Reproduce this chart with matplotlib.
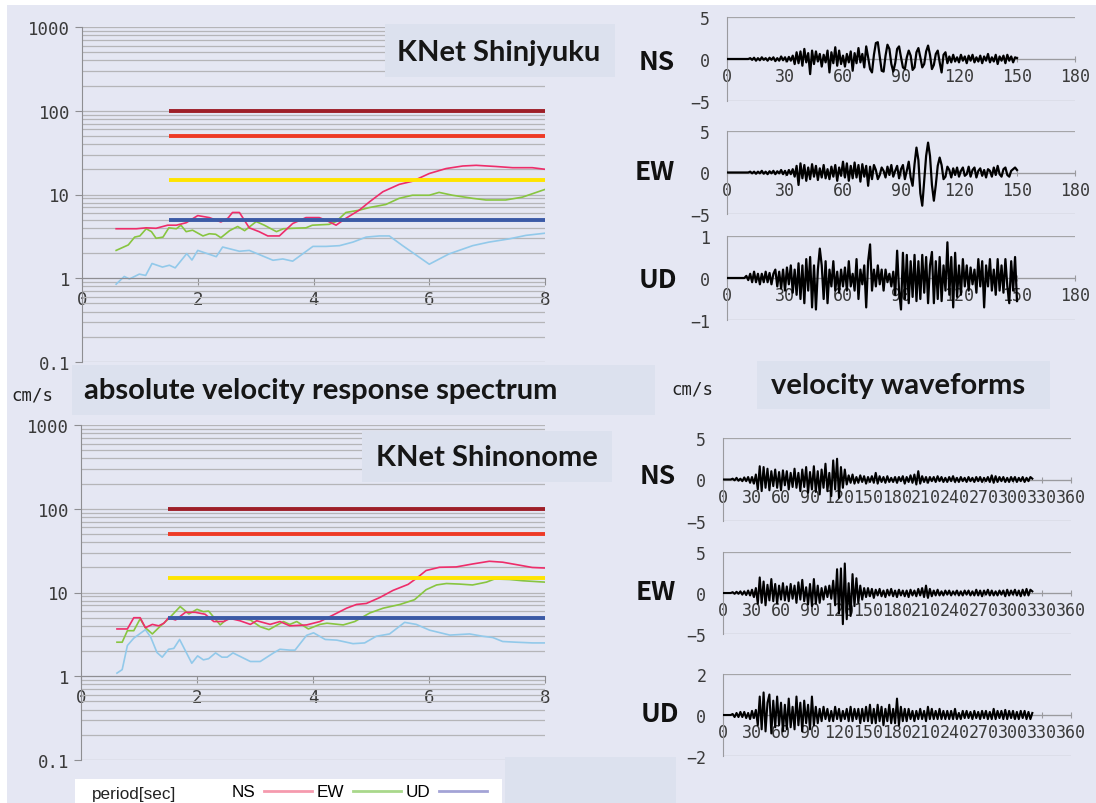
import numpy as np
import matplotlib
matplotlib.use("Agg")
from matplotlib import pyplot as plt
from matplotlib.patches import Rectangle
from matplotlib.lines import Line2D
from matplotlib.ticker import LogLocator, NullFormatter

W, H = 1096, 804

# ---- response spectra (period [s], velocity [cm/s]) ----
# KNet Shinjyuku
shj_ns_t = [0.59, 0.94, 1.11, 1.28, 1.48, 1.63, 1.80, 2.0, 2.2, 2.4, 2.52, 2.6, 2.72, 2.89, 3.06, 3.21,
            3.41, 3.64, 3.87, 4.10, 4.25, 4.39, 4.56, 4.79, 4.97, 5.2, 5.48, 5.71, 6.0, 6.29, 6.58, 6.81,
            7.15, 7.44, 7.78, 8.0]
shj_ns_v = [3.9, 3.9, 4.0, 3.95, 4.3, 4.3, 4.6, 5.6, 5.3, 4.7, 5.2, 6.1, 6.1, 4.0, 3.6, 3.2,
            3.2, 4.5, 5.3, 5.3, 4.8, 4.3, 5.2, 6.5, 8.2, 10.8, 13.2, 14.4, 17.8, 20.4, 21.9, 22.3,
            21.6, 20.9, 20.9, 20.0]
shj_ew_t = [0.59, 0.80, 0.91, 1.0, 1.11, 1.2, 1.28, 1.4, 1.5, 1.63, 1.71, 1.80, 1.91, 2.09, 2.2, 2.31,
            2.4, 2.55, 2.69, 2.81, 3.01, 3.15, 3.36, 3.48, 3.64, 3.87, 3.98, 4.27, 4.39, 4.56, 4.79,
            4.97, 5.25, 5.48, 5.71, 6.0, 6.17, 6.40, 6.75, 6.98, 7.32, 7.61, 7.78, 8.0]
shj_ew_v = [2.15, 2.5, 3.1, 3.2, 3.9, 3.6, 3.0, 3.1, 4.0, 3.9, 4.3, 3.6, 3.75, 3.2, 3.4, 3.35,
            3.05, 3.7, 4.15, 3.7, 4.75, 4.3, 3.6, 3.9, 3.95, 4.0, 4.3, 4.4, 4.75, 6.1, 6.5,
            7.0, 7.6, 9.0, 9.8, 9.8, 10.6, 9.8, 9.0, 8.6, 8.6, 9.3, 10.2, 11.5]
shj_ud_t = [0.59, 0.73, 0.82, 0.99, 1.1, 1.21, 1.39, 1.51, 1.61, 1.81, 1.9, 2.0, 2.32, 2.43, 2.72, 2.89,
            3.3, 3.47, 3.64, 3.99, 4.22, 4.45, 4.68, 4.91, 5.14, 5.31, 5.54, 5.77, 6.0, 6.34, 6.75,
            7.03, 7.38, 7.67, 8.0]
shj_ud_v = [0.85, 1.05, 0.98, 1.12, 1.08, 1.5, 1.36, 1.43, 1.33, 1.97, 1.65, 2.15, 1.81, 2.36, 2.1, 2.15,
            1.64, 1.7, 1.6, 2.4, 2.4, 2.45, 2.7, 3.1, 3.2, 3.2, 2.45, 1.9, 1.47, 1.95, 2.45,
            2.7, 2.95, 3.25, 3.45]

# KNet Shinonome
shn_ns_t = [0.62, 0.80, 0.91, 1.02, 1.11, 1.23, 1.34, 1.43, 1.51, 1.63, 1.80, 1.97, 2.14, 2.29, 2.46, 2.57,
            2.74, 2.92, 3.03, 3.26, 3.43, 3.6, 3.89, 4.12, 4.35, 4.58, 4.75, 4.92, 5.15, 5.38, 5.64,
            5.78, 5.95, 6.18, 6.47, 6.75, 7.04, 7.27, 7.56, 7.78, 8.0]
shn_ns_v = [3.67, 3.67, 5.0, 5.0, 3.8, 4.16, 4.0, 4.3, 5.0, 4.7, 5.8, 5.8, 5.5, 4.5, 4.5, 4.9,
            4.6, 4.16, 4.6, 4.16, 4.5, 4.0, 4.1, 4.5, 5.4, 6.5, 7.2, 7.4, 8.7, 10.6, 12.5,
            14.7, 18.3, 20.0, 20.2, 21.9, 23.6, 23.0, 21.2, 19.9, 19.6]
shn_ew_t = [0.62, 0.71, 0.80, 0.91, 1.02, 1.11, 1.23, 1.34, 1.51, 1.71, 1.86, 2.0, 2.11, 2.2, 2.4, 2.52,
            2.74, 2.92, 3.09, 3.24, 3.49, 3.6, 3.72, 3.92, 4.12, 4.24, 4.52, 4.72, 4.98, 5.21, 5.5,
            5.75, 5.95, 6.13, 6.3, 6.53, 6.75, 6.99, 7.13, 7.39, 7.62, 8.0]
shn_ew_v = [2.55, 2.55, 3.5, 3.5, 4.85, 3.8, 3.2, 3.8, 4.85, 6.8, 5.55, 6.3, 5.9, 6.0, 4.1, 4.85,
            4.9, 4.7, 3.9, 3.6, 4.5, 4.16, 4.5, 3.67, 4.16, 4.3, 4.1, 4.5, 5.7, 6.5, 7.2,
            8.2, 10.8, 12.3, 12.8, 12.6, 12.3, 13.3, 14.5, 14.3, 13.8, 13.3]
shn_ud_t = [0.62, 0.71, 0.80, 0.91, 1.11, 1.2, 1.31, 1.4, 1.51, 1.6, 1.7, 1.91, 2.01, 2.11, 2.2, 2.32,
            2.43, 2.52, 2.62, 2.92, 3.09, 3.32, 3.43, 3.6, 3.69, 3.89, 4.01, 4.21, 4.41, 4.69, 4.89,
            5.09, 5.32, 5.58, 5.78, 6.01, 6.36, 6.7, 6.93, 7.1, 7.27, 7.5, 7.79, 8.0]
shn_ud_v = [1.09, 1.2, 2.33, 2.85, 3.6, 2.95, 1.92, 1.69, 2.1, 2.15, 2.75, 1.43, 1.75, 1.57, 1.62, 1.9,
            1.69, 1.69, 1.9, 1.5, 1.5, 1.9, 2.1, 2.05, 2.05, 3.08, 3.3, 2.75, 2.7, 2.45, 2.5,
            3.0, 3.2, 4.4, 4.16, 3.55, 3.1, 3.2, 3.0, 2.9, 2.6, 2.55, 2.5, 2.5]

levels = [100, 50, 15, 5]
level_colors = ["#9e1f28", "#ee3a26", "#ffe400", "#3b5aa6"]
level_start = 1.5

# ---- velocity waveforms [cm/s] ----
top_dt = 1.0
shj_ns_w = [0] * 12 + [
    0.1, -0.1, 0.15, -0.2, 0.1, -0.15, 0.2, -0.1, 0.1, -0.2, 0.15, -0.1, 0.2, -0.25, 0.1, -0.2, 0.3, -0.15,
    0.2, -0.3, 0.25, -0.2, 0.4,
    -0.6, 0.8, -0.5, 0.9, -0.8, 1.2, -0.4, 0.7, -1.8, 1.0, -0.6, 0.9, -0.3, 0.6, -0.9, 0.5, -0.4, 1.0,
    -1.6, 0.8, -0.5, 1.4, -0.8, 1.0, -0.6, 0.4, -0.9, 0.6, -0.4, 0.9, -1.4, 0.7, -0.5, 1.3, -0.4, 0.6,
    -1.0, 1.5, 0.2, -1.2, -1.6, 0.5, 1.9, 2.0, 0.3, -1.4, -1.5, 0.4, 1.7, 1.2, -0.6, -1.5, -0.5, 1.2,
    1.5, 0.2, -1.0, -1.2, 0.2, 1.0, 0.4, -1.3, -1.0, 0.8, 1.3, 0.2, -1.0, -0.6, 0.9, 1.6, 0.5, -1.2,
    -0.7, 0.6, 1.0, -0.4,
    -1.6, 0.5, 0.8, -0.5, 0.3, -0.4, 0.5, -0.3, 0.2, -0.4, 0.5, -0.2, 0.3, -0.5, 0.4, -0.2, 0.5, -0.4,
    0.2, -0.3, 0.4, -0.5, 0.3, -0.2, 0.6, -0.4, 0.2, -0.3, 0.5, -0.6, 0.3, -0.2, 0.4, -0.5, 0.5, -0.2,
    0.3, -0.4, 0.2, 0.1]
shj_ew_w = [0] * 12 + [
    0.1, -0.1, 0.1, -0.15, 0.1, -0.1, 0.2, -0.15, 0.1, -0.2, 0.15, -0.1, 0.2, -0.2, 0.15, -0.1, 0.3, -0.2,
    0.2, -0.3, 0.3, -0.2, 0.4,
    -0.5, 0.8, -1.5, 1.1, -0.7, 0.9, -1.0, 0.6, -0.8, 1.0, -0.5, 0.8, -0.9, 0.5, -0.6, 0.9, -0.7, 0.4,
    -0.8, 0.7, -0.5, 0.9, -1.0, 0.6, -0.4, 1.3, -0.6, 1.1, -1.0, 0.8, -0.7, 1.2, -0.6, 0.9, -1.1, 1.0,
    -0.5, 0.8, -1.6, 0.7, -0.8,
    0.9, 0.3, -0.8, -0.3, 0.6, 0.2, -0.6, 0.7, -0.3, 0.9, -0.5, 0.2, 0.8, -0.7, 0.4, 0.9, -0.8, 0.2,
    1.3, -0.6,
    -1.6, 1.0, 3.0, 1.5, -2.5, -4.0, -1.0, 2.0, 3.6, 2.0, -1.5, -3.4, -1.5, 0.8, 1.8, 0.9, -0.8,
    -0.5, 0.7, 0.3, -0.6, 0.5, -0.3, 0.6, -0.5, 0.2, 0.6, -0.4, -0.2, 0.7, -0.5, 0.3, 0.6, -0.6, 0.2,
    0.5, -0.4, 0.3, -0.6, 0.4, 0.2, -0.5, 0.6, -0.3, 0.8, -0.2, -0.5, 0.4, 0.6, -0.3, -0.5, 0.2, 0.4,
    0.6, 0.3]
shj_ud_w = [0] * 10 + [
    0.05, -0.05, 0.1, -0.1, 0.15, -0.1, 0.1, -0.15, 0.1, -0.1, 0.15, -0.1, 0.12, -0.15, 0.1,
    0.2, -0.2, 0.15, -0.25, 0.2, -0.3, 0.25, -0.15, 0.3, -0.35, 0.2, -0.4, 0.35, -0.5, 0.3, -0.6,
    0.45, -0.3, 0.5, -0.7, 0.3, -0.75, 0.2, 0.7, 0.3, -0.5, 0.4, -0.6, 0.2, -0.2, 0.4, -0.3, 0.15,
    -0.35, 0.2, -0.2,
    0.25, -0.3, 0.4, -0.2, 0.1, -0.3, 0.45, -0.5, 0.2, -0.15, 0.3, -0.7, 0.4, 0.8, -0.3, 0.2, -0.2,
    0.3, -0.15, 0.2,
    -0.3, 0.2, -0.1, 0.1, -0.2, 0.15, -0.4, 0.65, -0.3, -0.75, 0.6, -0.5, 0.55, -0.6, 0.4, -0.45,
    0.55, -0.55, 0.4, -0.5,
    0.55, -0.35, 0.5, -0.6, 0.3, 0.62, -0.6, 0.4, -0.5, 0.5, -0.55, 0.3, -0.3, 0.85, -0.4, 0.5, -0.7,
    0.6, -0.45, 0.3,
    -0.4, 0.45, -0.2, 0.3, -0.3, 0.25, -0.15, 0.2, -0.35, 0.45, -0.2, 0.4, -0.7, 0.3, -0.2, 0.45,
    -0.3, 0.2, -0.4, 0.45, -0.3, 0.3, -0.35, 0.45, -0.2, -0.6, 0.4, -0.3, 0.5, -0.55]

bot_dt = 2.0
shn_ns_w = [0] * 5 + [
    0.1, -0.1, 0.2, -0.15, 0.1, -0.2, 0.25, -0.2, 0.3, -0.4, 0.3, -0.5, 0.6,
    -1.2, 1.6, -1.4, 1.5, -1.0, 1.3, -1.3, 1.0,
    -0.8, 1.2, -1.0, 0.9, -1.3, 1.1, -0.7, 1.0, -1.2, 0.8, -0.9, 1.3, -1.0, 0.8, -1.4, 1.2, -0.9,
    1.5, -1.6, 0.9, -1.2, 1.6,
    -1.5, 1.0, -1.8, 1.2, -1.0, 1.9, -1.4, 0.8, -2.0, 2.3, -1.2, 2.5, -2.2, 1.5, -1.0, 1.2,
    -0.6, 0.5, -0.4, 0.6, -0.5, 0.3, -0.4, 0.5, -0.3, 0.4, -0.5, 0.3, -0.3, 0.4, -0.4, 0.8, -0.5,
    0.4, -0.3, 0.3, -0.4, 0.4, -0.3, 0.2, -0.3, 0.3, -0.4, 0.3, -0.2, 0.4, -0.5, 0.3, -0.3, 0.5,
    -0.4, 0.6, -0.6, 1.0, -0.5, 0.4, -0.3, 0.3, -0.4, 0.3, -0.2, 0.3, -0.3, 0.4, -0.2, 0.3, -0.3,
    0.2, -0.3, 0.3, -0.2, 0.4, -0.3, 0.2, -0.3, 0.3, -0.2, 0.2, -0.3, 0.3, -0.2, 0.2, -0.3, 0.3,
    -0.2, 0.3, -0.3, 0.2, -0.2, 0.3, -0.3, 0.5, -0.4, 0.4, -0.3, 0.3, -0.2, 0.3, -0.3, 0.2, -0.3,
    0.3, -0.2, 0.3, -0.3, 0.2, -0.2, 0.3, -0.3, 0.2, -0.2, 0.3, 0.1]
shn_ew_w = [0] * 5 + [
    0.1, -0.1, 0.15, -0.1, 0.2, -0.2, 0.2, -0.25, 0.3, -0.3, 0.4, -0.5, 0.6,
    -1.3, 1.9, -1.2, 1.4, -1.5, 1.0, -0.9, 1.7, -1.0, 1.1, -1.3, 0.9, -0.8,
    1.2, -0.9, 0.8, -1.0, 1.1, -0.7, 0.9, -1.2, 1.3, -0.8, 1.6, -1.0, 0.7, -1.4, 1.1, -1.6, 1.7,
    -1.3, 0.9, -1.2, 0.6, -0.8, 0.8, -0.5, 0.9, -0.7, 1.5,
    -1.5, 2.9, -2.5, 3.0, -3.8, 3.6, -3.2, 1.2, -2.8, 2.3, -1.6, 1.8, -1.2,
    0.9, -0.8, 0.6, -0.5, 0.6, -0.4, 0.5, -0.6, 0.4, -0.3, 0.5, -0.4, 0.3, -0.5, 0.4, -0.3, 0.5,
    -0.4, 0.3, -0.5, 0.4, -0.3, 0.3, -0.4, 0.3, -0.5, 0.4, -0.3, 0.3, -0.4, 0.5, -0.3, 0.6, -0.5,
    0.9, -0.6, 0.5, -0.4, 0.3, -0.3, 0.4, -0.3, 0.2, -0.3, 0.3, -0.2, 0.3, -0.3, 0.2, -0.2, 0.3,
    -0.3, 0.2, -0.3, 0.3, -0.2, 0.3, -0.3, 0.2, -0.3, 0.4, -0.3, 0.3, -0.4, 0.3, -0.2, 0.4, -0.3,
    0.3, -0.3, 0.2, -0.3, 0.3, -0.2, 0.3, -0.4, 0.4, -0.3, 0.3, -0.2, 0.4, -0.3, 0.3, -0.4, 0.4,
    -0.3, 0.5, -0.3, 0.4, 0.2]
shn_ud_w = [0] * 5 + [
    0.05, -0.1, 0.1, -0.1, 0.15, -0.1, 0.15, -0.15, 0.1, -0.2, 0.2, -0.15, 0.25,
    -0.5, 0.9, -0.7, 1.1, -0.8, 0.6, 1.0, -0.9, 0.7, -0.6, 0.9, -0.5, 0.6, -0.8, 0.5, -0.7, 0.8,
    -0.6, 0.4, -0.7, 0.9, -0.5, 0.6, -0.8, 0.7, -0.4, 0.5, -0.7, 0.9, -0.5, 0.4,
    -0.4, 0.3, -0.3, 0.4, -0.2, 0.3, -0.3, 0.2, -0.3, 0.4, -0.2, 0.3, -0.3, 0.2, -0.2, 0.3, -0.3,
    0.4, -0.3, 0.3, -0.2, 0.3, -0.4, 0.3, -0.3, 0.4, -0.3, 0.5, -0.4, 0.3, -0.4, 0.5, -0.3, 0.4,
    -0.5, 0.3, -0.3, 0.5, -0.4, 0.3, -0.4, 0.8, -0.5, 0.4, -0.3, 0.3, -0.3,
    0.3, -0.2, 0.2, -0.3, 0.2, -0.2, 0.3, -0.2, 0.2, -0.3, 0.4, -0.2, 0.3, -0.2, 0.2, -0.2, 0.3,
    -0.2, 0.2, -0.2, 0.2, -0.2, 0.2, -0.2, 0.3, -0.2, 0.1, -0.2, 0.2, -0.15, 0.2, -0.15, 0.15,
    -0.2, 0.2, -0.15, 0.15, -0.2, 0.2, -0.15, 0.2, -0.2, 0.15, -0.2, 0.3, -0.2, 0.2, -0.15, 0.2,
    -0.2, 0.25, -0.2, 0.2, -0.15, 0.2, -0.2, 0.15, -0.2, 0.2, -0.15, 0.2, -0.2, 0.15, -0.2, 0.1]

BG = "#e5e7f3"
BOX = "#dce1ee"
TICK_FONT = "DejaVu Sans Mono"

fig = plt.figure(figsize=(W / 100, H / 100), dpi=100)
fig.patch.set_facecolor("white")
fig.add_artist(Rectangle((7 / W, 0), 1 - 7 / W, 1 - 6 / H, transform=fig.transFigure,
                         facecolor=BG, edgecolor="none", zorder=-10))


def px_axes(x0, y0, x1, y1):
    ax = fig.add_axes([x0 / W, 1 - y1 / H, (x1 - x0) / W, (y1 - y0) / H])
    ax.patch.set_alpha(0)
    return ax


def box(x0, y0, x1, y1, color=BOX):
    fig.add_artist(Rectangle((x0 / W, 1 - y1 / H), (x1 - x0) / W, (y1 - y0) / H,
                             transform=fig.transFigure, facecolor=color, edgecolor="none", zorder=5))


def label(x, y, s, **kw):
    fig.text(x / W, 1 - y / H, s, zorder=6, **kw)


def spectrum(ax, series):
    for t, v, c in series:
        ax.plot(t, v, color=c, lw=1.2, zorder=2)
    ax.hlines(levels, level_start, 8, colors=level_colors, lw=2.8, zorder=3)
    ax.set_yscale("log")
    ax.set_ylim(0.1, 1000)
    ax.set_xlim(0, 8)
    ax.set_yticks([0.1, 1, 10, 100, 1000])
    ax.set_yticklabels(["0.1", "1", "10", "100", "1000"])
    ax.yaxis.set_minor_locator(LogLocator(base=10, subs=np.arange(2, 10)))
    ax.yaxis.set_minor_formatter(NullFormatter())
    ax.set_xticks([0, 2, 4, 6, 8])
    ax.grid(axis="y", which="both", color="#b5b5b8", lw=0.9, zorder=1)
    ax.spines["bottom"].set_position(("data", 1))
    for s in ["top", "right"]:
        ax.spines[s].set_visible(False)
    for s in ["left", "bottom"]:
        ax.spines[s].set_color("#8e8e92")
    ax.tick_params(which="major", length=5, color="#8e8e92", labelsize=12.5, labelcolor="#3a3a3a")
    ax.tick_params(which="minor", length=0)
    for lab in ax.get_xticklabels() + ax.get_yticklabels():
        lab.set_fontfamily(TICK_FONT)


def waveform(ax, w, dt, xmax, ylim, lw):
    t = np.arange(len(w)) * dt
    ax.plot(t, w, color="black", lw=lw, zorder=3)
    ax.set_xlim(0, xmax)
    ax.set_ylim(-ylim, ylim)
    ax.set_yticks([-ylim, 0, ylim])
    ax.set_xticks(np.arange(0, xmax + 1, 30))
    ax.grid(axis="y", color="#a5a5a8", lw=0.9, zorder=1)
    ax.spines["bottom"].set_position(("data", 0))
    for s in ["top", "right"]:
        ax.spines[s].set_visible(False)
    for s in ["left", "bottom"]:
        ax.spines[s].set_color("#9a9a9e")
    ax.tick_params(axis="x", length=4, direction="inout", color="#9a9a9e", pad=4)
    ax.tick_params(axis="y", length=0, pad=12)
    ax.tick_params(labelsize=12, labelcolor="#3a3a3a")
    for lab in ax.get_xticklabels() + ax.get_yticklabels():
        lab.set_fontfamily(TICK_FONT)


NS_C, EW_C, UD_C = "#ee2d6a", "#88c540", "#92c9ea"

ax1 = px_axes(82, 28, 545, 363)
spectrum(ax1, [(shj_ud_t, shj_ud_v, UD_C), (shj_ew_t, shj_ew_v, EW_C), (shj_ns_t, shj_ns_v, NS_C)])
ax2 = px_axes(81, 426, 545, 761)
spectrum(ax2, [(shn_ud_t, shn_ud_v, UD_C), (shn_ew_t, shn_ew_v, EW_C), (shn_ns_t, shn_ns_v, NS_C)])

# waveforms: Shinjyuku (top) and Shinonome (bottom)
waveform(px_axes(727, 18, 1075, 102), shj_ns_w, top_dt, 180, 5, 1.6)
waveform(px_axes(727, 132, 1075, 215), shj_ew_w, top_dt, 180, 5, 1.6)
waveform(px_axes(727, 237, 1075, 321), shj_ud_w, top_dt, 180, 1, 1.6)
waveform(px_axes(723, 439, 1071, 522), shn_ns_w, bot_dt, 360, 5, 1.5)
waveform(px_axes(723, 553, 1071, 635), shn_ew_w, bot_dt, 360, 5, 1.5)
waveform(px_axes(723, 675, 1071, 757), shn_ud_w, bot_dt, 360, 2, 1.5)

title_kw = dict(fontfamily="Lato", fontweight="bold", fontsize=21, color="#161616", va="center")
box(385, 25, 615, 78)
label(397, 53, "KNet Shinjyuku", **title_kw)
box(362, 432, 612, 483)
label(376, 458, "KNet Shinonome", **title_kw)
box(72, 366, 655, 416)
label(84, 391, "absolute velocity response spectrum", **title_kw)
box(757, 362, 1050, 410)
label(771, 386, "velocity waveforms", **title_kw)

unit_kw = dict(fontfamily="DejaVu Sans Mono", fontsize=12.5, color="#222222", va="center")
label(11, 396, "cm/s", **unit_kw)
label(671, 390, "cm/s", **unit_kw)

comp_kw = dict(fontfamily="Noto Sans CJK JP", fontweight="bold", fontsize=19, color="#111111",
               va="center", ha="center")
for x, y, s in [(657, 62, "NS"), (655, 173, "EW"), (658, 281, "UD"),
                (658, 477, "NS"), (656, 593, "EW"), (660, 715, "UD")]:
    label(x, y, s, **comp_kw)

# legend strip along the bottom
box(505, 758, 676, 804)
box(75, 780, 502, 804, color="white")
label(92, 795, "period[sec]", fontfamily="Liberation Sans", fontsize=12.3, color="#222222", va="center")
handles = [Line2D([], [], color=c, lw=2) for c in ["#f59aae", "#a9d88b", "#a3a3d6"]]
fig.legend(handles, ["NS", "EW", "UD"], ncol=3, markerfirst=False, frameon=False,
           loc="center left", bbox_to_anchor=(216 / W, 1 - 793 / H), handlelength=2.8,
           handletextpad=0.5, columnspacing=0.3, prop={"family": "Liberation Sans", "size": 12.3})

fig.savefig("out.png", dpi=100)
